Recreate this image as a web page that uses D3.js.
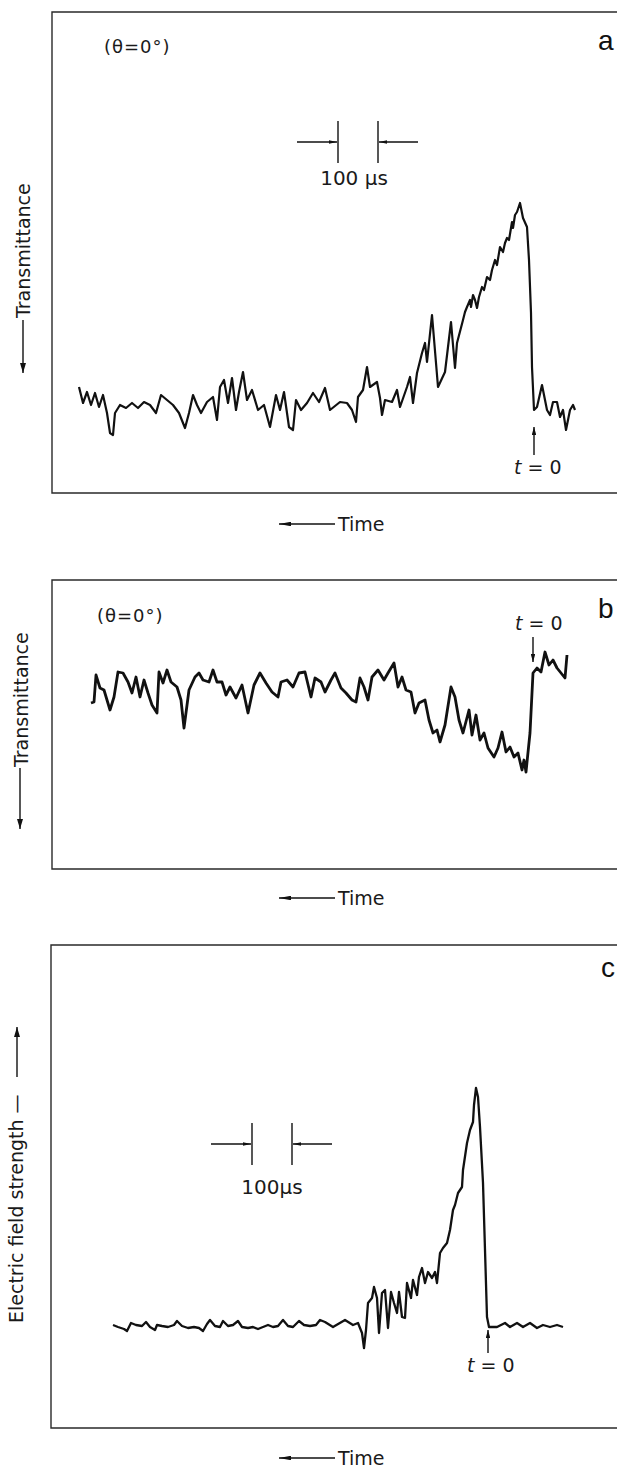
<!DOCTYPE html>
<html>
<head>
<meta charset="utf-8">
<script src="https://cdn.jsdelivr.net/npm/d3@7"></script>
<style>
  body { margin: 0; background: #fff; }
  svg { display: block; }
  .lbl { font-family: "DejaVu Sans", sans-serif; fill: #1a1a1a; }
  .tag { font-family: "Liberation Sans", Arial, sans-serif; fill: #111; }
</style>
</head>
<body>
<script>
// each point: [time in µs (counted leftwards from t = 0), signal in arb. units above the frame floor]
const traceA = [
  [1137.5,106],[1127.5,90],[1117.5,101],[1107.5,88],[1097.5,100],[1087.5,86],[1077.5,98],[1067.5,80],
  [1060,60],[1052.5,58],[1047.5,80],[1035,88],[1020,85],[1005,90],[990,85],[975,91],[960,88],[945,80],
  [932.5,98],[917.5,93],[902.5,88],[887.5,80],[872.5,65],[862.5,80],[852.5,98],[842.5,88],[832.5,80],
  [817.5,91],[802.5,96],[792.5,73],[785,106],[775,113],[765,90],[755,115],[745,83],[737.5,101],
  [727.5,121],[717.5,93],[705,103],[690,83],[675,88],[660,66],[645,98],[635,83],[625,101],[612.5,66],
  [602.5,63],[595,93],[582.5,83],[567.5,90],[552.5,100],[537.5,91],[522.5,105],[510,83],[485,91],
  [467.5,90],[455,83],[445,71],[440,96],[427.5,103],[417.5,126],[410,106],[392.5,111],[385,95],[380,78],
  [372.5,93],[355,91],[342.5,103],[335,86],[317.5,106],[310,116],[302.5,90],[292.5,120],[280,140],
  [272.5,150],[267.5,131],[255,178],[240,106],[222.5,121],[207.5,171],[197.5,125],[192.5,150],
  [177.5,173],[172.5,181],[167.5,186],[160,193],[157.5,186],[152.5,198],[147.5,193],[142.5,185],
  [137.5,196],[130,206],[125,203],[117.5,216],[110,213],[105,223],[97.5,233],[92.5,228],[85,246],
  [77.5,241],[72.5,250],[67.5,255],[62.5,253],[55,271],[52.5,265],[47.5,278],[42.5,281],[35,290],
  [27.5,275],[17.5,266],[12.5,233],[7.5,180],[5,126],
  [0,83],[-7.5,86],[-20,108],[-32.5,83],[-40,78],[-47.5,91],[-57.5,91],[-65,76],[-72.5,83],[-80,63],
  [-90,83],[-97.5,88],[-102.5,83]
];
const traceB = [
  [1105,166],[1097.5,167],[1092.5,194],[1082.5,181],[1072.5,179],[1057.5,159],[1047.5,172],[1037.5,197],
  [1025,196],[1012.5,187],[1002.5,176],[992.5,192],[982.5,172],[972.5,189],[962.5,176],[952.5,164],
  [940,156],[935,197],[925,186],[915,199],[905,187],[890,182],[880,169],[872.5,141],[860,179],[845,192],
  [835,196],[825,189],[810,187],[800,199],[790,187],[777.5,187],[767.5,174],[757.5,182],[742.5,171],
  [727.5,184],[712.5,156],[697.5,184],[682.5,196],[667.5,186],[652.5,177],[637.5,172],[630,187],
  [615,189],[600,182],[585,196],[570,197],[555,172],[545,191],[530,187],[520,177],[505,189],[495,196],
  [480,181],[467.5,176],[452.5,169],[442.5,167],[432.5,191],[422.5,182],[412.5,169],[402.5,192],
  [387.5,199],[372.5,189],[362.5,196],[347.5,206],[337.5,182],[327.5,192],[317.5,179],[305,177],
  [295,156],[285,166],[270,169],[260,149],[250,136],[240,139],[232.5,127],[220,144],[205,182],[195,172],
  [185,149],[175,136],[160,159],[152.5,134],[142.5,154],[132.5,129],[122.5,136],[112.5,121],[97.5,112],
  [87.5,121],[77.5,137],[67.5,117],[57.5,122],[47.5,112],[37.5,116],[27.5,99],[22.5,109],[17.5,97],
  [7.5,136],[0,196],[-10,201],[-20,197],[-30,217],[-40,204],[-50,209],[-60,201],[-70,196],[-80,191],
  [-85,214]
];
const traceC = [
  [937.5,103],[925,101],[910,99],[902.5,97],[892.5,105],[880,103],[865,102],[855,106],[845,101],
  [832.5,98],[827.5,103],[815,102],[800,101],[785,103],[777.5,107],[765,102],[750,100],[735,101],
  [722.5,100],[712.5,97],[702.5,104],[695,108],[682.5,102],[670,101],[662.5,107],[650,102],[637.5,103],
  [625,107],[615,101],[600,100],[587.5,101],[575,99],[562.5,101],[550,103],[537.5,101],[525,102],
  [512.5,108],[500,102],[487.5,101],[472.5,107],[460,103],[445,102],[430,103],[420,108],[407.5,106],
  [387.5,101],[357.5,108],[337.5,103],[325,105],[315,95],[310,80],[305,98],[300,125],[290,130],[285,141],
  [277.5,130],[272.5,95],[265,135],[257.5,138],[250,100],[242.5,136],[235,125],[227.5,115],[222.5,136],
  [215,111],[207.5,110],[202.5,145],[192.5,130],[187.5,148],[177.5,133],[172.5,151],[165,160],
  [157.5,145],[150,156],[140,150],[132.5,156],[127.5,145],[120,175],[112.5,180],[102.5,185],[95,198],
  [87.5,218],[82.5,223],[75,235],[65,241],[62.5,258],[52.5,285],[45,298],[37.5,306],[35,323],[30,340],
  [25,331],[20,301],[12.5,245],[7.5,178],[2.5,111],[-2.5,101],[-22.5,101],[-42.5,105],[-55,101],
  [-72.5,105],[-87.5,101],[-105,105],[-122.5,100],[-137.5,103],[-155,101],[-172.5,103],[-187.5,101]
];

const panelTags = ["a", "b", "c"];
const axisTitles = ["Transmittance", "Transmittance", "Electric field strength \u2014"];
const angleNote = "(\u03b8=0\u00b0)";
const barTexts = ["100 \u03bcs", "100\u03bcs"];
const timeTitle = "Time";

const W = 617, H = 1468;
const US_PER_PX = 2.5;

const panels = [
  {tag: panelTags[0], data: traceA, top: 12, bottom: 493, left: 52, t0x: 534, width: 2.2,
   title: axisTitles[0], titleX: 30, titleBase: 318, arrow: [23, 320, 373],
   note: [104, 53], tagPos: [598, 50],
   bar: {t: 490, y: 142, text: barTexts[0], textY: 185, dx: -4},
   zero: {y1: 455, y2: 427, tx: 514, ty: 474}, timeY: 524},
  {tag: panelTags[1], data: traceB, top: 580, bottom: 869, left: 52, t0x: 533, width: 2.8,
   title: axisTitles[1], titleX: 28, titleBase: 767, arrow: [20, 768, 829],
   note: [97, 622], tagPos: [598, 618],
   bar: null,
   zero: {y1: 637, y2: 662, tx: 515, ty: 630}, timeY: 898},
  {tag: panelTags[2], data: traceC, top: 945, bottom: 1428, left: 51, t0x: 488, width: 2.3,
   title: axisTitles[2], titleX: 23, titleBase: 1323, arrow: [17, 1077, 1027],
   note: null, tagPos: [601, 977],
   bar: {t: 590, y: 1144, text: barTexts[1], textY: 1194, dx: 0},
   zero: {y1: 1353, y2: 1330, tx: 467, ty: 1372}, timeY: 1458}
];

const svg = d3.select("body").append("svg").attr("width", W).attr("height", H);
svg.append("rect").attr("width", W).attr("height", H).attr("fill", "#fff");

const defs = svg.append("defs");
function marker(id, len, wid) {
  defs.append("marker").attr("id", id)
    .attr("viewBox", `0 0 ${len} ${wid}`)
    .attr("refX", len).attr("refY", wid / 2)
    .attr("markerWidth", len).attr("markerHeight", wid)
    .attr("markerUnits", "userSpaceOnUse").attr("orient", "auto")
    .append("path").attr("d", `M0,0L${len},${wid / 2}L0,${wid}Z`).attr("fill", "#111");
}
marker("head", 10, 6);
marker("tip", 8, 4.5);
marker("bar", 8, 3.5);
marker("time", 12, 4.5);

function arrowLine(g, x1, y1, x2, y2, id, w) {
  g.append("line").attr("x1", x1).attr("y1", y1).attr("x2", x2).attr("y2", y2)
    .attr("stroke", "#111").attr("stroke-width", w || 1.3)
    .attr("marker-end", `url(#${id})`);
}

panels.forEach(p => {
  const g = svg.append("g");
  const x = d3.scaleLinear()
    .domain([(p.t0x - p.left) * US_PER_PX, (p.t0x - W) * US_PER_PX])
    .range([p.left, W]);
  const y = d3.scaleLinear().domain([0, p.bottom - p.top]).range([p.bottom, p.top]);

  // open frame (right side runs off the page)
  g.append("path")
    .attr("d", `M${W},${p.top}H${p.left}V${p.bottom}H${W}`)
    .attr("fill", "none").attr("stroke", "#2a2a2a").attr("stroke-width", 1.4);

  // recorded trace
  const line = d3.line().x(d => x(d[0])).y(d => y(d[1]));
  g.append("path").datum(p.data)
    .attr("d", line)
    .attr("fill", "none").attr("stroke", "#111")
    .attr("stroke-width", p.width).attr("stroke-linejoin", "round");

  // panel letter
  g.append("text").attr("class", "tag")
    .attr("x", p.tagPos[0]).attr("y", p.tagPos[1])
    .attr("font-size", 28).text(p.tag);

  if (p.note) {
    g.append("text").attr("class", "lbl")
      .attr("x", p.note[0]).attr("y", p.note[1])
      .attr("font-size", 18).attr("letter-spacing", 1).text(angleNote);
  }

  // vertical axis title with arrow
  g.append("text").attr("class", "lbl")
    .attr("transform", `translate(${p.titleX},${p.titleBase}) rotate(-90)`)
    .attr("font-size", 19).text(p.title);
  arrowLine(g, p.arrow[0], p.arrow[1], p.arrow[0], p.arrow[2], "head", 1.4);

  // 100 µs scale bar
  if (p.bar) {
    const xa = x(p.bar.t), xb = x(p.bar.t - 100);
    [xa, xb].forEach(xx => {
      g.append("line").attr("x1", xx).attr("x2", xx)
        .attr("y1", p.bar.y - 21).attr("y2", p.bar.y + 21)
        .attr("stroke", "#111").attr("stroke-width", 1.4);
    });
    arrowLine(g, xa - 41, p.bar.y, xa - 1, p.bar.y, "bar", 1.3);
    arrowLine(g, xb + 40, p.bar.y, xb + 1, p.bar.y, "bar", 1.3);
    g.append("text").attr("class", "lbl")
      .attr("x", (xa + xb) / 2 + p.bar.dx).attr("y", p.bar.textY)
      .attr("text-anchor", "middle").attr("font-size", 20)
      .text(p.bar.text);
  }

  // t = 0 marker
  const x0 = x(0);
  arrowLine(g, x0, p.zero.y1, x0, p.zero.y2, "tip", 1.4);
  const tz = g.append("text").attr("class", "lbl")
    .attr("x", p.zero.tx).attr("y", p.zero.ty).attr("font-size", 19);
  tz.append("tspan").attr("font-style", "italic").text("t");
  tz.append("tspan").text(" = 0");

  // time direction
  arrowLine(g, 335, p.timeY, 279, p.timeY, "time", 1.4);
  g.append("text").attr("class", "lbl")
    .attr("x", 338).attr("y", p.timeY + 7).attr("font-size", 19).text(timeTitle);
});
</script>
</body>
</html>
